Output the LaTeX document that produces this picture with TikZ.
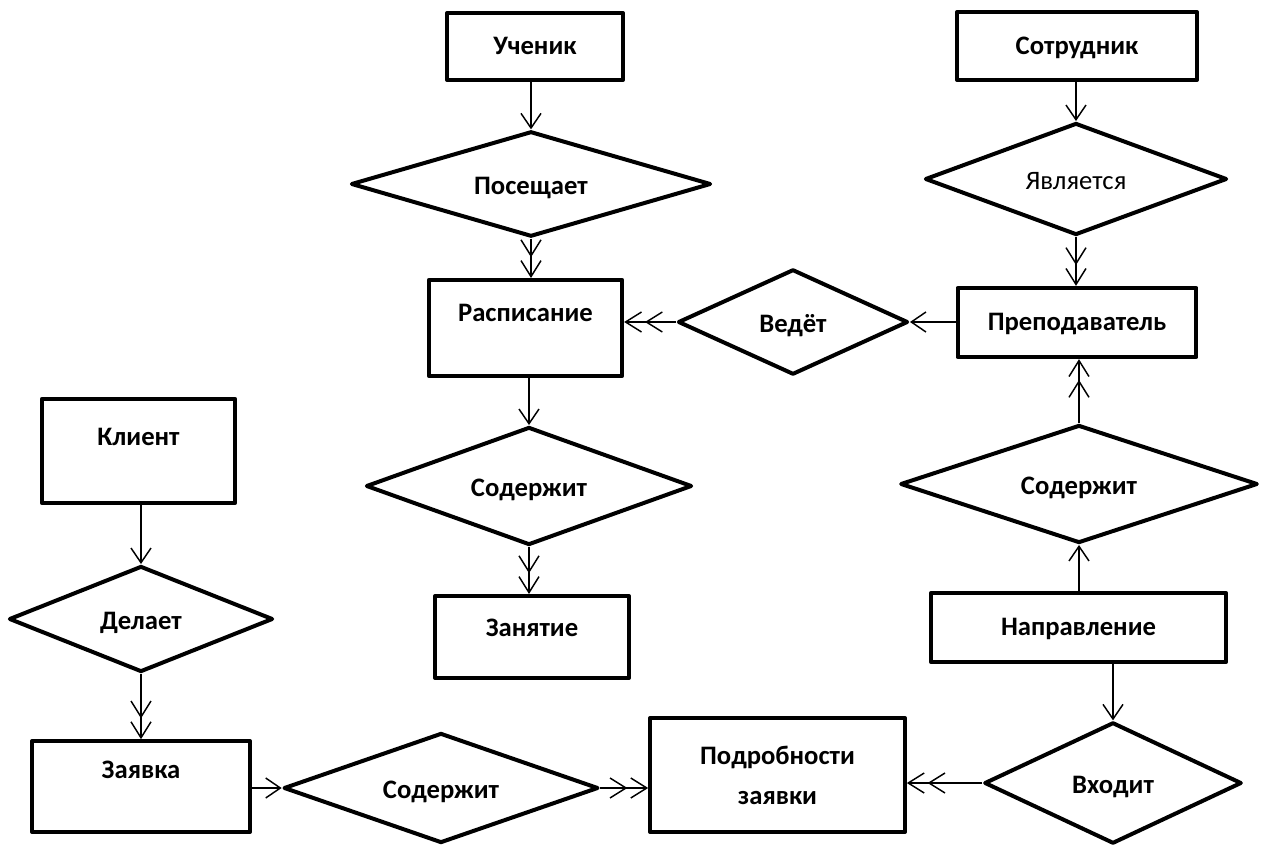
\documentclass[tikz,border=0pt]{standalone}
\usepackage{fontspec}
\setmainfont{Carlito}
\usetikzlibrary{shapes.geometric,arrows.meta}
\begin{document}
\begin{tikzpicture}[x=.75pt,y=-.75pt,line join=round,
 ent/.style={draw,line width=3pt,font=\fontsize{20}{24}\selectfont\bfseries,inner sep=0pt,text height=14pt,text depth=1.5pt},
 rel/.style={draw,diamond,aspect=3,line width=3pt,font=\fontsize{20}{24}\selectfont\bfseries,inner sep=0pt,text height=15pt,text depth=0pt},
 one/.style={-{Straight Barb[length=11pt,width=15pt]},line width=1.1pt},
 many/.style={-{Straight Barb[length=12pt,width=15pt,sep=2pt]Straight Barb[length=12pt,width=15pt]},line width=1.1pt}]
 \useasboundingbox (0,0) rectangle (1272,846);
 % entities
 \node[ent,minimum width=132pt,minimum height=50pt] (uchenik) at (535,46.5) {Ученик};
 \node[ent,minimum width=180pt,minimum height=51pt] (sotr) at (1077,46) {Сотрудник};
 \node[ent,minimum width=145pt,minimum height=72pt,text depth=24pt] (rasp) at (525.5,328) {Расписание};
 \node[ent,minimum width=179pt,minimum height=52pt] (prep) at (1077,322.5) {Преподаватель};
 \node[ent,minimum width=145pt,minimum height=78pt,text depth=22.5pt] (klient) at (138.5,451) {Клиент};
 \node[ent,minimum width=145.5pt,minimum height=61.5pt,text depth=15pt] (zan) at (532,637) {Занятие};
 \node[ent,minimum width=221pt,minimum height=52pt] (napr) at (1078.5,627.5) {Направление};
 \node[ent,minimum width=163.5pt,minimum height=68pt,text depth=26pt] (zayav) at (141,786.5) {Заявка};
 \node[ent,minimum width=191pt,minimum height=85.5pt,align=center,text height=,text depth=,font=\fontsize{20}{30}\selectfont\bfseries] (podr) at (777.5,775) {Подробности\\заявки};
 % relations
 \node[rel,minimum width=270pt,minimum height=79pt] (posesh) at (531,184) {Посещает};
 \node[rel,minimum width=172.5pt,minimum height=79pt] (vedet) at (793,322) {Ведёт};
 \node[rel,minimum width=226.5pt,minimum height=84pt,font=\fontsize{20}{24}\selectfont] (yavl) at (1076,179) {Является};
 \node[rel,minimum width=244.5pt,minimum height=88.5pt] (sod1) at (529,486) {Содержит};
 \node[rel,minimum width=268pt,minimum height=88.5pt] (sod2) at (1079,484) {Содержит};
 \node[rel,minimum width=198pt,minimum height=79.5pt] (delaet) at (141,619) {Делает};
 \node[rel,minimum width=236pt,minimum height=82.5pt] (sod3) at (441,788) {Содержит};
 \node[rel,minimum width=193pt,minimum height=91pt] (vhod) at (1113,783) {Входит};
 % links
 \draw[one] (uchenik.south -| posesh.north) -- (posesh.north);
 \draw[many] (posesh.south) -- (posesh.south |- rasp.north);
 \draw[many] (vedet.west) -- (vedet.west -| rasp.east);
 \draw[one] (prep.west |- vedet.east) -- (vedet.east);
 \draw[one] (sotr.south -| yavl.north) -- (yavl.north);
 \draw[many] (yavl.south) -- (yavl.south |- prep.north);
 \draw[one] (rasp.south -| sod1.north) -- (sod1.north);
 \draw[many] (sod1.south) -- (sod1.south |- zan.north);
 \draw[one] (napr.north -| sod2.south) -- (sod2.south);
 \draw[many] (sod2.north) -- (sod2.north |- prep.south);
 \draw[one] (napr.south -| vhod.north) -- (vhod.north);
 \draw[many] (vhod.west) -- (vhod.west -| podr.east);
 \draw[one] (klient.south -| delaet.north) -- (delaet.north);
 \draw[many] (delaet.south) -- (delaet.south |- zayav.north);
 \draw[one] (zayav.east |- sod3.west) -- (sod3.west);
 \draw[many] (sod3.east) -- (sod3.east -| podr.west);
\end{tikzpicture}
\end{document}
